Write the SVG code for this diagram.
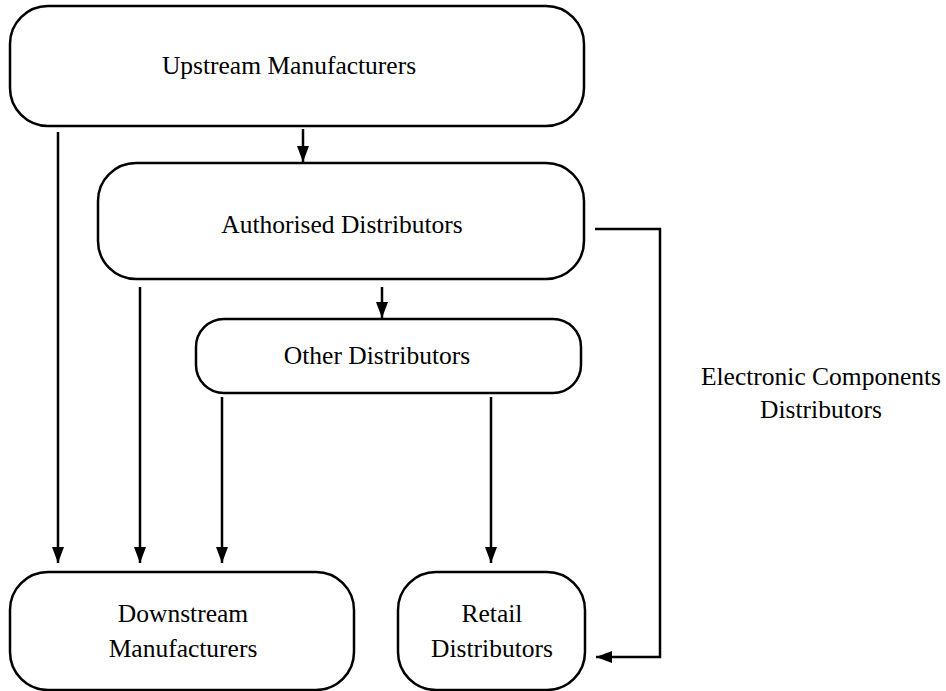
<svg xmlns="http://www.w3.org/2000/svg" width="946" height="691" viewBox="0 0 946 691">
  <defs>
    <marker id="arrow" viewBox="0 0 16 12" refX="16" refY="6" markerWidth="16" markerHeight="12" markerUnits="userSpaceOnUse" orient="auto">
      <path d="M0,0 L16,6 L0,12 z" fill="#000"/>
    </marker>
  </defs>
  <style>
    .box { fill: #fff; stroke: #000; stroke-width: 2.5; }
    .lbl { font-family: 'Liberation Serif', 'Times New Roman', serif; font-size: 25.5px; fill: #000; text-anchor: middle; }
    .edge { fill: none; stroke: #000; stroke-width: 2.5; marker-end: url(#arrow); }
  </style>
  <rect width="946" height="691" fill="#fff"/>

  <g id="connectors">
    <line class="edge" x1="303" y1="129" x2="303" y2="162"/>
    <line class="edge" x1="382" y1="287" x2="382" y2="318"/>
    <line class="edge" x1="58" y1="132" x2="58" y2="563"/>
    <line class="edge" x1="140" y1="287" x2="140" y2="563"/>
    <line class="edge" x1="222" y1="397" x2="222" y2="563"/>
    <line class="edge" x1="491" y1="397" x2="491" y2="563"/>
    <polyline class="edge" points="595,229 660,229 660,657 596,657"/>
  </g>

  <g id="upstream">
    <rect class="box" x="10" y="6" width="574" height="120" rx="38"/>
    <text class="lbl" x="289" y="74">Upstream Manufacturers</text>
  </g>

  <g id="authorised">
    <rect class="box" x="98" y="163" width="486" height="116" rx="38"/>
    <text class="lbl" x="342" y="233">Authorised Distributors</text>
  </g>

  <g id="other">
    <rect class="box" x="196" y="319" width="385" height="74" rx="28"/>
    <text class="lbl" x="377" y="364">Other Distributors</text>
  </g>

  <g id="downstream">
    <rect class="box" x="10" y="572" width="344" height="118" rx="38"/>
    <text class="lbl" x="183" y="622">Downstream</text>
    <text class="lbl" x="183" y="657">Manufacturers</text>
  </g>

  <g id="retail">
    <rect class="box" x="398" y="572" width="187" height="118" rx="38"/>
    <text class="lbl" x="492" y="622">Retail</text>
    <text class="lbl" x="492" y="657">Distributors</text>
  </g>

  <g id="ecd-label">
    <text class="lbl" x="821" y="385">Electronic Components</text>
    <text class="lbl" x="821" y="418">Distributors</text>
  </g>
</svg>
